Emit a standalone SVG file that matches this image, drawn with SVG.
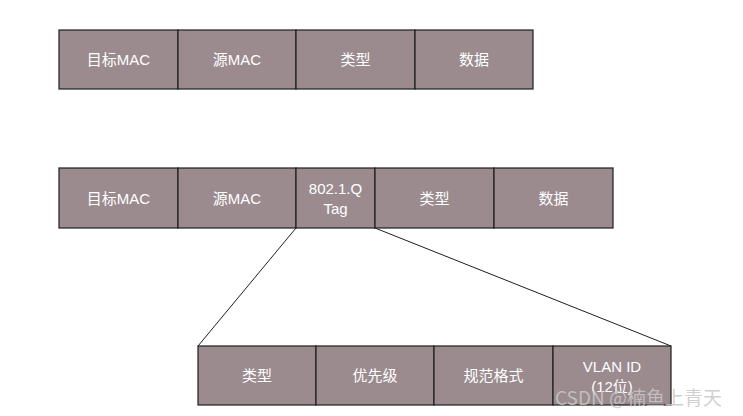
<svg xmlns="http://www.w3.org/2000/svg" width="743" height="416" viewBox="0 0 743 416">
<style>
.box{fill:#9b8b8f;stroke:#1e1e1e;stroke-width:1.2}
.t{fill:#ffffff;font-family:"Liberation Sans","Noto Sans CJK SC",sans-serif;font-size:15px;text-anchor:middle;dominant-baseline:central}
.conn{stroke:#1e1e1e;stroke-width:1;fill:none}
.wm{fill:#c8c8c8;fill-opacity:0.85;font-family:"Noto Sans CJK SC","Liberation Sans",sans-serif;font-size:19px}
</style>
<rect width="743" height="416" fill="#ffffff"/>
<g id="connectors">
<line class="conn" x1="296" y1="228" x2="198" y2="346"/>
<line class="conn" x1="375" y1="228" x2="671" y2="346"/>
</g>
<g id="r1-dstmac"><rect class="box" x="59" y="30" width="119" height="59"/><text class="t" x="118.5" y="59.5">目标MAC</text></g>
<g id="r1-srcmac"><rect class="box" x="178" y="30" width="118" height="59"/><text class="t" x="237" y="59.5">源MAC</text></g>
<g id="r1-type"><rect class="box" x="296" y="30" width="119" height="59"/><text class="t" x="355.5" y="59.5">类型</text></g>
<g id="r1-data"><rect class="box" x="415" y="30" width="118" height="59"/><text class="t" x="474" y="59.5">数据</text></g>

<g id="r2-dstmac"><rect class="box" x="59" y="168" width="119" height="60"/><text class="t" x="118.5" y="198">目标MAC</text></g>
<g id="r2-srcmac"><rect class="box" x="178" y="168" width="118" height="60"/><text class="t" x="237" y="198">源MAC</text></g>
<g id="r2-tag"><rect class="box" x="296" y="168" width="79" height="60"/><text class="t" x="335.5" y="188">802.1.Q</text><text class="t" x="335.5" y="208">Tag</text></g>
<g id="r2-type"><rect class="box" x="375" y="168" width="119" height="60"/><text class="t" x="434.5" y="198">类型</text></g>
<g id="r2-data"><rect class="box" x="494" y="168" width="119" height="60"/><text class="t" x="553.5" y="198">数据</text></g>

<g id="r3-type"><rect class="box" x="198" y="346" width="118" height="59"/><text class="t" x="257" y="375.5">类型</text></g>
<g id="r3-prio"><rect class="box" x="316" y="346" width="118" height="59"/><text class="t" x="375" y="375.5">优先级</text></g>
<g id="r3-cfi"><rect class="box" x="434" y="346" width="119" height="59"/><text class="t" x="493.5" y="375.5">规范格式</text></g>
<g id="r3-vlan"><rect class="box" x="553" y="346" width="118" height="59"/><text class="t" x="612" y="366">VLAN ID</text><text class="t" x="612" y="386">(12位)</text></g>

<text class="wm" x="555" y="405">CSDN @楠鱼上青天</text>
</svg>
